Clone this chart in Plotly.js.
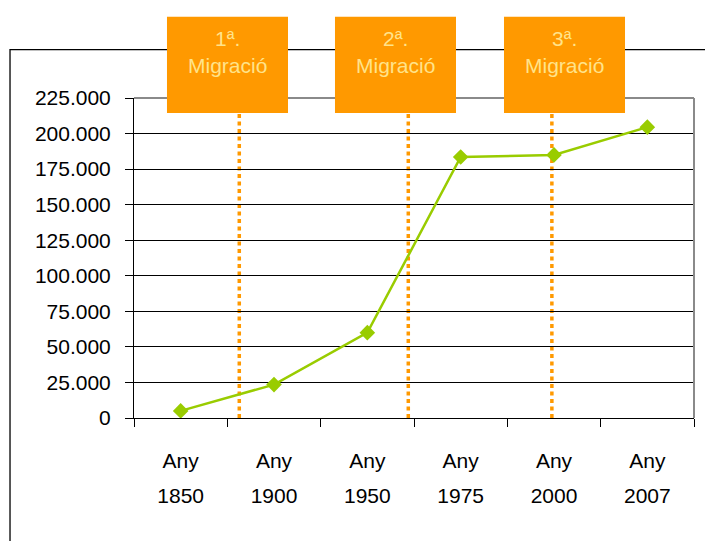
<!DOCTYPE html>
<html>
<head>
<meta charset="utf-8">
<script src="https://cdn.plot.ly/plotly-3.0.1.min.js"></script>
<style>html,body{margin:0;padding:0;background:#fff;}#chart{width:705px;height:541px;}</style>
</head>
<body>
<div id="chart"></div>
<script>
// ---- data ----
const years = ['1850', '1900', '1950', '1975', '2000', '2007'];
const yearPrefix = ['Any', 'Any', 'Any', 'Any', 'Any', 'Any'];
const population = [5000, 23500, 60000, 183500, 185000, 204500];
const migrationLabels = ['1ª.<br>Migració', '2ª.<br>Migració', '3ª.<br>Migració'];

const FONT = 'Liberation Sans, Arial, sans-serif';
const orange = '#FF9900';

const trace = {
  x: years,
  y: population,
  type: 'scatter',
  mode: 'lines+markers',
  line: {color: '#99CC00', width: 2.5},
  marker: {symbol: 'diamond', size: 12, color: '#99CC00'},
  hoverinfo: 'x+y'
};

// invisible helper trace so the overlaid label axis is drawn
const helper = {
  x: years.map((_, i) => i),
  y: population,
  xaxis: 'x2',
  type: 'scatter',
  mode: 'markers',
  marker: {opacity: 0},
  hoverinfo: 'skip'
};

// dotted migration lines (x in paper coords)
const dotX = [0.1880, 0.4898, 0.7462];
const boxX0 = [0.0589, 0.3589, 0.6607];
const boxW = 0.2161;
const boxY0 = 0.953, boxY1 = 1.254;

const shapes = [];
shapes.push({type: 'rect', xref: 'paper', yref: 'paper', x0: -0.2214, x1: 1.2, y0: -0.6, y1: 1.151,
  line: {color: '#000', width: 1.3}, fillcolor: 'rgba(0,0,0,0)', layer: 'above'});
shapes.push({type: 'line', xref: 'paper', yref: 'paper', x0: 0, x1: 1, y0: 1, y1: 1,
  line: {color: '#8a8a8a', width: 2}, layer: 'above'});
shapes.push({type: 'line', xref: 'paper', yref: 'paper', x0: 1, x1: 1, y0: 0, y1: 1,
  line: {color: '#8a8a8a', width: 2}, layer: 'above'});
dotX.forEach(x => shapes.push({type: 'line', xref: 'paper', yref: 'paper', x0: x, x1: x, y0: 0, y1: 0.97,
  line: {color: orange, width: 3.5, dash: '4px,3.5px'}, layer: 'between'}));
boxX0.forEach(x => shapes.push({type: 'rect', xref: 'paper', yref: 'paper', x0: x, x1: x + boxW, y0: boxY0, y1: boxY1,
  line: {width: 0}, fillcolor: orange, layer: 'above'}));

const annotations = migrationLabels.map((t, i) => ({
  text: t, xref: 'paper', yref: 'paper', x: boxX0[i] + boxW / 2, y: 1.143,
  xanchor: 'center', yanchor: 'middle', showarrow: false,
  font: {family: FONT, size: 21, color: '#FFE38A'}
}));

const layout = {
  width: 705, height: 541,
  margin: {l: 134, r: 11, t: 97.5, b: 122.5},
  paper_bgcolor: '#fff', plot_bgcolor: '#fff',
  showlegend: false,
  separators: ',.',
  font: {family: FONT, size: 21, color: '#000'},
  xaxis: {
    type: 'category', range: [-0.5, 5.5], tickson: 'boundaries', ticks: 'outside', ticklen: 8, tickcolor: '#000', tickwidth: 1,
    showline: true, linecolor: '#000', linewidth: 1, showgrid: false, zeroline: false,
    ticklabelstandoff: 59, tickfont: {family: FONT, size: 21, color: '#000'},
    fixedrange: true
  },
  xaxis2: {
    overlaying: 'x', anchor: 'y', side: 'bottom', range: [-0.5, 5.5],
    tickmode: 'array', tickvals: years.map((_, i) => i), ticktext: yearPrefix,
    ticks: 'outside', ticklen: 8, tickcolor: 'rgba(0,0,0,0)',
    showline: false, showgrid: false, zeroline: false,
    ticklabelstandoff: 16, tickfont: {family: FONT, size: 21, color: '#000'},
    fixedrange: true
  },
  yaxis: {
    range: [0, 225000], dtick: 25000, tick0: 0, tickformat: ',d',
    ticks: 'outside', ticklen: 8, tickcolor: '#000', tickwidth: 1,
    showline: true, linecolor: '#000', linewidth: 1,
    showgrid: true, gridcolor: '#000', gridwidth: 1, zeroline: false,
    ticklabelstandoff: 10, tickfont: {family: FONT, size: 21, color: '#000'},
    fixedrange: true
  },
  shapes: shapes,
  annotations: annotations
};

Plotly.newPlot('chart', [helper, trace], layout, {displayModeBar: false, staticPlot: true});
</script>
</body>
</html>
